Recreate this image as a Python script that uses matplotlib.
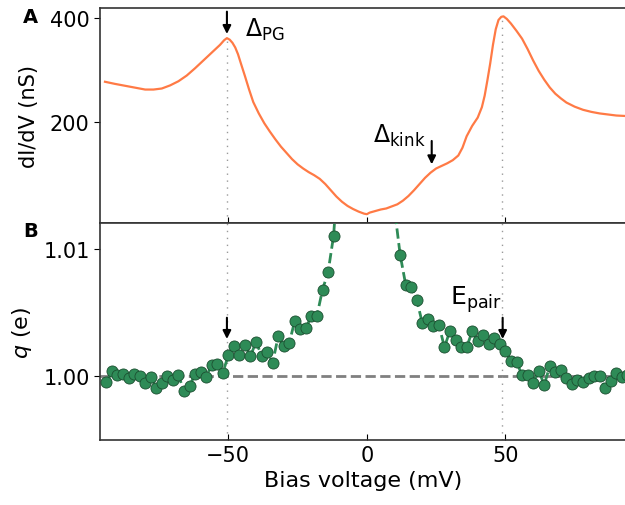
import matplotlib
matplotlib.use("Agg")
import matplotlib.pyplot as plt

# ---- Panel A: differential conductance ----
bias_a = [-94.5, -91, -87, -83, -80, -77, -74, -71, -68, -65,
          -62, -59, -56, -53, -51.5, -50.5, -49.5, -48.5, -47.5, -46.5,
          -45.5, -44, -42.5, -41, -39, -37, -35, -33, -31, -29,
          -27, -25, -23, -21, -19, -17, -15, -13, -11, -9,
          -7, -5, -3, -1, 0, 1, 3, 5, 7, 9,
          11, 13, 15, 17, 19, 21, 23, 25, 27, 29,
          31, 33, 34.5, 36, 38, 40, 41.5, 42.5, 43.5, 44.5,
          45.5, 46.5, 47.5, 48.5, 49.3, 50.5, 52, 54, 56, 58,
          60, 62, 64, 66, 68, 70, 72, 75, 78, 81,
          84, 87, 90, 93.6]
didv = [277, 273, 269, 265, 262, 262, 264, 270, 278, 289,
        303, 318, 333, 348, 357, 361, 358, 352, 343, 330,
        313, 288, 262, 238, 216, 197, 181, 166, 152, 140,
        128, 118, 110, 103, 97, 90, 80, 68, 56, 46,
        38, 32, 27, 23, 22, 25, 28, 31, 33, 37,
        41, 48, 57, 68, 80, 92, 102, 110, 115, 120,
        126, 135, 150, 172, 192, 208, 228, 250, 280, 312,
        348, 378, 396, 402, 403, 398, 389, 375, 360, 340,
        318, 298, 281, 266, 254, 245, 237, 229, 223, 219,
        216, 214, 212, 211]

# ---- Panel B: effective charge ----
bias_b = [-94, -92, -90, -88, -86, -84, -82, -80, -78, -76, -74, -72, -70, -68,
          -66, -64, -62, -60, -58, -56, -54, -52, -50, -48, -46, -44, -42, -40,
          -38, -36, -34, -32, -30, -28, -26, -24, -22, -20, -18, -16, -14, -12,
          -10, 10,
          12, 14, 16, 18, 20, 22, 24, 26, 28, 30, 32, 34, 36, 38, 40, 42, 44,
          46, 48, 50, 52, 54, 56, 58, 60, 62, 64, 66, 68, 70, 72, 74, 76, 78,
          80, 82, 84, 86, 88, 90, 92, 94]
charge = [0.99958, 1.00039, 1.00010, 1.00016, 0.99987, 1.00018, 1.00005, 0.99945,
          0.99997, 0.99906, 0.99948, 1.00005, 0.99974, 1.00010, 0.99882, 0.99921,
          1.00018, 1.00037, 0.99997, 1.00089, 1.00097, 1.00026, 1.00165, 1.00241,
          1.00168, 1.00248, 1.00157, 1.00272, 1.00162, 1.00188, 1.00107, 1.00314,
          1.00236, 1.00262, 1.00437, 1.00372, 1.00377, 1.00477, 1.00477, 1.00681,
          1.00817, 1.01105,
          1.0174, 1.0131,
          1.00956, 1.00720, 1.00699, 1.00600, 1.00419, 1.00450, 1.00393, 1.00403,
          1.00228, 1.00359, 1.00288, 1.00228, 1.00228, 1.00353, 1.00280, 1.00327,
          1.00254, 1.00303, 1.00256, 1.00202, 1.00123, 1.00115, 1.00007, 1.00007,
          0.99950, 1.00045, 0.99931, 1.00081, 1.00034, 1.00048, 0.99990, 0.99936,
          0.99968, 0.99953, 0.99990, 1.00001, 1.00005, 0.99906, 0.99966, 1.00028,
          0.99992, 1.00010]

delta_pg = -50.5
e_pair = 48.7
delta_kink = 23.4

orange = '#ff7a45'
green = '#2e8b57'

fig = plt.figure(figsize=(6.25, 5.06), dpi=100)
ax1 = fig.add_axes([0.16, 0.5573, 0.842, 0.4259])
ax2 = fig.add_axes([0.16, 0.1285, 0.842, 0.4289], sharex=ax1)

xlim = (-96.3, 93.6)

# Panel A
ax1.plot(bias_a, didv, color=orange, lw=1.6)
ax1.vlines([delta_pg], 5, 361, colors='#9a9a9a', linestyles=(0, (1, 4)), lw=1.0)
ax1.vlines([e_pair], 5, 402, colors='#9a9a9a', linestyles=(0, (1, 4)), lw=1.0)
ax1.set_ylim(5, 420)
ax1.set_xlim(*xlim)
ax1.set_yticks([200, 400])
ax1.set_ylabel('dI/dV (nS)', fontsize=15)
ax1.tick_params(axis='x', direction='in', labelbottom=False, length=4)
ax1.tick_params(axis='y', direction='out', labelsize=15, length=4)

arrow = dict(arrowstyle='-|>', color='k', lw=1.5, mutation_scale=12,
             shrinkA=0, shrinkB=0)
ax1.annotate('', xy=(delta_pg, 369), xytext=(delta_pg, 412), arrowprops=arrow)
ax1.annotate('', xy=(delta_kink, 118), xytext=(delta_kink, 163), arrowprops=arrow)
ax1.text(-44, 365, r'$\Delta_{\mathrm{PG}}$', fontsize=17, ha='left', va='baseline')
ax1.text(2.3, 161, r'$\Delta_{\mathrm{kink}}$', fontsize=17, ha='left', va='baseline')

# Panel B
ax2.axhline(1.0, color='#808080', ls='--', lw=2, zorder=1)
ax2.axvline(delta_pg, color='#9a9a9a', ls=(0, (1, 4)), lw=1.0, zorder=1)
ax2.axvline(e_pair, color='#9a9a9a', ls=(0, (1, 4)), lw=1.0, zorder=1)
ax2.plot(bias_b, charge, ls='--', color=green, lw=2, marker='o', ms=8,
         mfc=green, mec='#1c4f31', mew=0.6, zorder=3)
ax2.set_ylim(0.995, 1.01204)
ax2.set_xlim(*xlim)
ax2.set_yticks([1.00, 1.01])
ax2.set_yticklabels(['1.00', '1.01'])
ax2.set_xticks([-50, 0, 50])
ax2.set_xticklabels(['\u221250', '0', '50'])
ax2.tick_params(axis='x', direction='in', labelsize=15, length=4)
ax2.tick_params(axis='y', direction='out', labelsize=15, length=4)
ax2.set_xlabel('Bias voltage (mV)', fontsize=16)
ax2.set_ylabel(r'$q$ (e)', fontsize=16)
ax2.annotate('', xy=(delta_pg, 1.00293), xytext=(delta_pg, 1.0046), arrowprops=arrow)
ax2.annotate('', xy=(49.0, 1.00293), xytext=(49.0, 1.0046), arrowprops=arrow)
ax2.text(30, 1.00568, r'$\mathrm{E}_{\mathrm{pair}}$', fontsize=18, ha='left', va='baseline')

for ax in (ax1, ax2):
    for s in ax.spines.values():
        s.set_linewidth(1.2)
        s.set_color('#333333')

ax1.yaxis.set_label_coords(-0.115, 0.5)
ax2.yaxis.set_label_coords(-0.125, 0.5)

fig.text(0.037, 0.984, 'A', fontsize=14, fontweight='bold', ha='left', va='top')
fig.text(0.037, 0.562, 'B', fontsize=14, fontweight='bold', ha='left', va='top')

fig.savefig('out.png', dpi=100)
